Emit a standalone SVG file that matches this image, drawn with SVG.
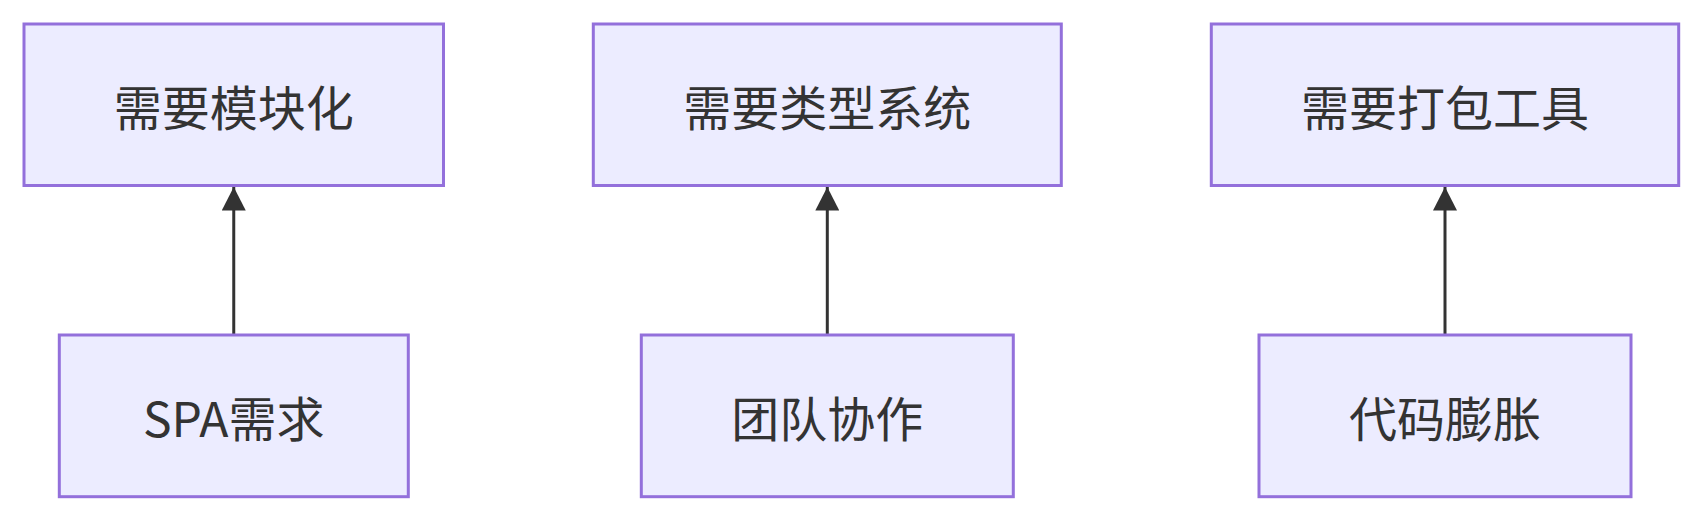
<svg xmlns="http://www.w3.org/2000/svg" width="1703" height="521" viewBox="0 0 1703 521">
<style>
.node rect{fill:#ECECFF;stroke:#9370DB;stroke-width:3}
.node text{fill:#333333;font-family:"Noto Sans CJK SC","Noto Sans",sans-serif;font-size:48px;text-anchor:middle;dominant-baseline:central}
.edge{stroke:#333333;stroke-width:3;fill:none}
</style>
<defs>
<marker id="arrow" markerUnits="userSpaceOnUse" markerWidth="24" markerHeight="24" viewBox="0 0 24 24" refX="23.5" refY="12" orient="auto">
<path d="M0,0 L23.5,12 L0,24 Z" fill="#333333"/>
</marker>
</defs>
<rect width="1703" height="521" fill="#ffffff"/>
<g id="connectors">
<path class="edge" d="M233.75,334 L233.75,187" marker-end="url(#arrow)"/>
<path class="edge" d="M827.3,334 L827.3,187" marker-end="url(#arrow)"/>
<path class="edge" d="M1445,334 L1445,187" marker-end="url(#arrow)"/>
</g>
<g id="node-modular" class="node">
<rect x="24" y="24" width="419.5" height="161.5"/>
<text x="233.75" y="104.75">需要模块化</text>
</g>
<g id="node-types" class="node">
<rect x="593.3" y="24" width="468" height="161.5"/>
<text x="827.3" y="104.75">需要类型系统</text>
</g>
<g id="node-bundler" class="node">
<rect x="1211.3" y="24" width="467.4" height="161.5"/>
<text x="1445" y="104.75">需要打包工具</text>
</g>
<g id="node-spa" class="node">
<rect x="59.3" y="335" width="349" height="161.7"/>
<text x="233.75" y="415.85">SPA需求</text>
</g>
<g id="node-team" class="node">
<rect x="641.3" y="335" width="372" height="161.7"/>
<text x="827.3" y="415.85">团队协作</text>
</g>
<g id="node-bloat" class="node">
<rect x="1259" y="335" width="372" height="161.7"/>
<text x="1445" y="415.85">代码膨胀</text>
</g>
</svg>
